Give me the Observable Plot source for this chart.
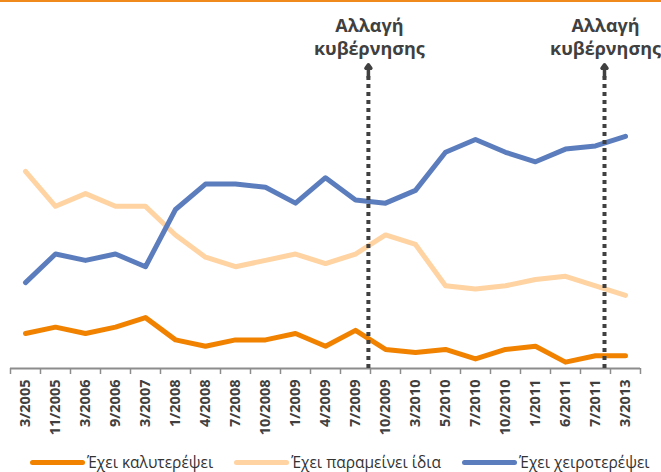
<!DOCTYPE html>
<html>
<head>
<meta charset="utf-8">
<script src="https://cdn.jsdelivr.net/npm/d3@7"></script>
<script src="https://cdn.jsdelivr.net/npm/@observablehq/plot@0.6"></script>
<style>
  html, body { margin: 0; padding: 0; background: #fff; }
  #wrap { width: 661px; height: 472px; border-top: 2px solid #F08A1C; box-sizing: border-box; overflow: hidden; font-family: "Open Sans", sans-serif; }
  #legend { width: 661px; height: 32px; display: flex; flex-wrap: nowrap; align-items: center; padding-top: 12px; box-sizing: border-box; padding-left: 30px; font-size: 15.5px; line-height: 18px; color: #333; white-space: nowrap; }
  .item { display: flex; align-items: center; margin-right: 21px; flex-shrink: 0; white-space: nowrap; }
  .sw { width: 55px; height: 5px; border-radius: 3px; margin-right: 2px; flex-shrink: 0; }
</style>
</head>
<body>
<div id="wrap"><div id="chart"></div><div id="legend"></div></div>
<script>
const categories = ["3/2005","11/2005","3/2006","9/2006","3/2007","1/2008","4/2008","7/2008","10/2008","1/2009","4/2009","7/2009","10/2009","3/2010","5/2010","7/2010","10/2010","1/2011","6/2011","7/2011","3/2013"];
const better = [11,13,11,13,16,9,7,9,9,11,7,12,6,5,6,3,6,7,2,4,4];
const same   = [62,51,55,51,51,42,35,32,34,36,33,36,42,39,26,25,26,28,29,26,23];
const worse  = [27,36,34,36,32,50,58,58,57,52,60,53,52,56,68,72,68,65,69,70,73];
const seriesNames = ["Έχει καλυτερέψει","Έχει παραμείνει ίδια","Έχει χειροτερέψει"];
const seriesColors = ["#F08200","#FFD3A2","#5B7DBD"];
const eventPos = [11.43, 19.3];
const eventTop = [95.5, 95.5];
const eventLabel = "Αλλαγή\nκυβέρνησης";

const idx = d3.range(categories.length);
const rows = [];
[better, same, worse].forEach((vals, s) => vals.forEach((v, i) => rows.push({i, v, s: seriesNames[s]})));
const events = eventPos.map((p, k) => ({p, top: eventTop[k]}));
const bounds = d3.range(categories.length + 1).map(i => i - 0.5);

const axisColor = "#8C8C8C";
const textColor = "#404040";
const drawOrder = [1, 2, 0];

const plot = Plot.plot({
  width: 661,
  height: 438,
  marginLeft: 10,
  marginRight: 21,
  marginTop: 48,
  marginBottom: 72,
  style: {fontFamily: "Open Sans, sans-serif", color: textColor, background: "white", overflow: "visible"},
  x: {domain: [-0.5, categories.length - 0.5]},
  y: {domain: [0, 100], axis: null},
  color: {domain: seriesNames, range: seriesColors},
  marks: [
    ...drawOrder.map(s => Plot.line(rows.filter(r => r.s === seriesNames[s]), {
      x: "i", y: "v", stroke: seriesColors[s], strokeWidth: 5, strokeLinejoin: "round", strokeLinecap: "round"
    })),
    Plot.ruleY([0], {x1: -0.5, x2: categories.length - 0.5, stroke: axisColor, strokeWidth: 2}),
    Plot.axisX(bounds, {tickSize: 6, tickFormat: () => "", stroke: axisColor, strokeWidth: 1.5}),
    Plot.axisX(idx, {tickSize: 0, tickPadding: 11, tickRotate: -90, tickFormat: i => categories[i], fontSize: 14.5, fontWeight: "bold", fill: textColor}),
    Plot.ruleX(events, {x: "p", y1: 0, y2: d => d.top - 3, stroke: textColor, strokeWidth: 4, strokeDasharray: "4,4"}),
    Plot.arrow(events, {x1: "p", x2: "p", y1: d => d.top - 4, y2: "top", stroke: textColor, strokeWidth: 3.5, headLength: 18, headAngle: 72}),
    Plot.text(events, {x: "p", frameAnchor: "top", text: () => eventLabel, lineAnchor: "bottom", dy: 4, lineHeight: 1.25, fontSize: 18, fontWeight: "bold", fill: textColor, dx: 1, letterSpacing: "-0.2px"})
  ]
});
document.getElementById("chart").appendChild(plot);

const legend = document.getElementById("legend");
seriesNames.forEach((n, k) => {
  const it = document.createElement("div");
  it.className = "item";
  it.innerHTML = `<span class="sw" style="background:${seriesColors[k]}"></span><span>${n}</span>`;
  legend.appendChild(it);
});
</script>
</body>
</html>
